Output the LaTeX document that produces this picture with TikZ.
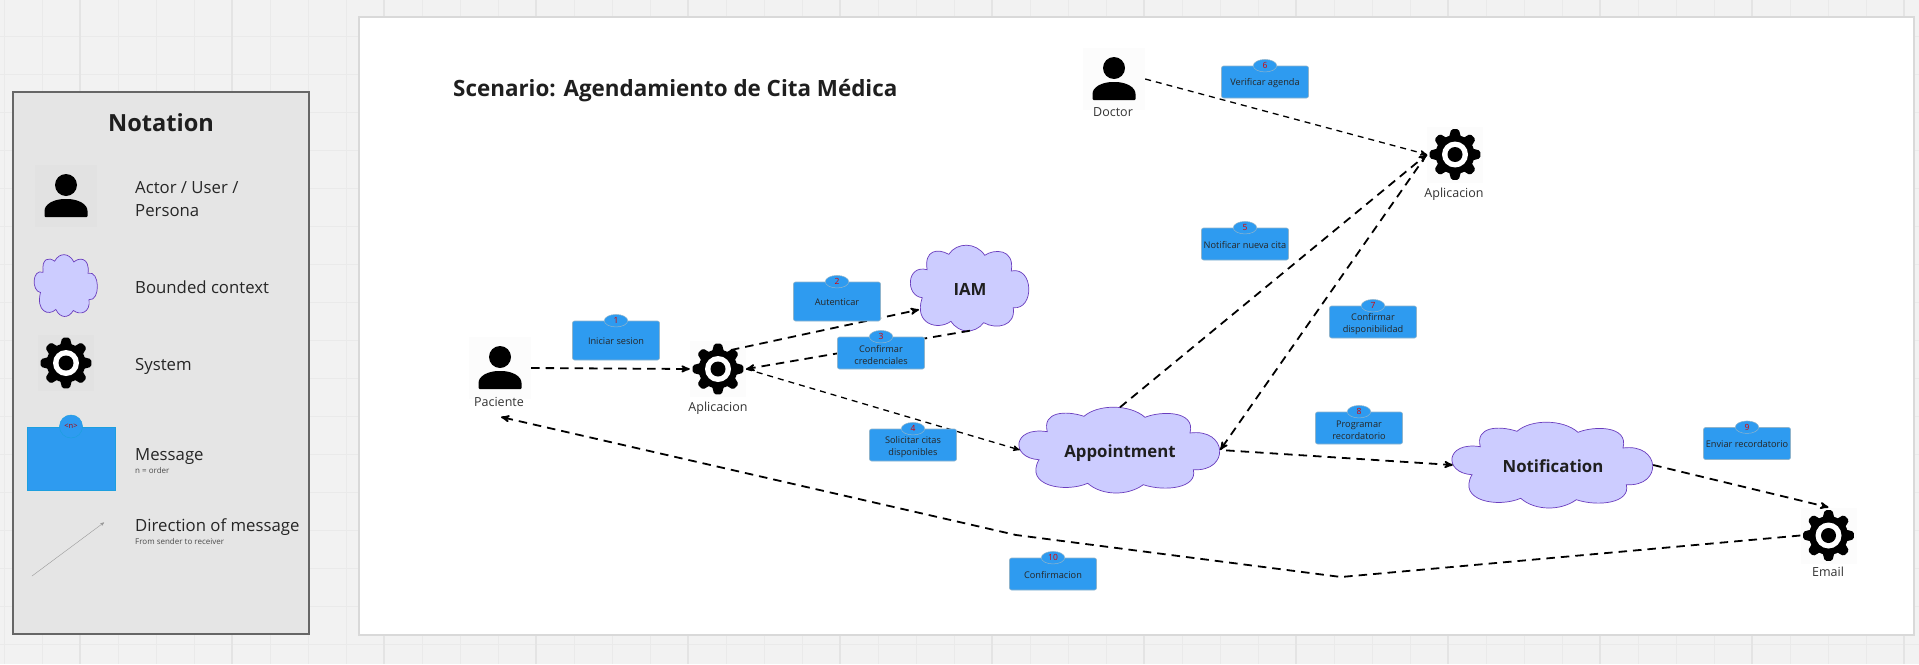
\documentclass[tikz,border=0pt]{standalone}
\usepackage{fontspec}
\setmainfont{Open Sans}
\usetikzlibrary{arrows,shapes.geometric}

\definecolor{gridline}{HTML}{EAEAEA}
\definecolor{gridmajor}{HTML}{E4E4E4}
\definecolor{cloudfill}{HTML}{CCCCFF}
\definecolor{cloudline}{HTML}{6A3DBE}
\definecolor{msgblue}{HTML}{2E9BF0}
\definecolor{msgedge}{HTML}{8FB4CC}
\definecolor{inktext}{HTML}{1F1F1F}

\newcommand{\geartooth}[1]{\fill[black, rounded corners=1.6pt] ({#1-22}:17) -- ({#1-8.5}:25.6) -- ({#1+8.5}:25.6) -- ({#1+22}:17) -- cycle;}
\newcommand{\cloudpath}[4]{\draw[draw=cloudline, line width=0.7pt, fill=cloudfill, shift={(#1,#2)}, xscale=#3, yscale=#4] (-36,-33.7) .. controls (-22,-46) and (10,-46) .. (25,-32.7) .. controls (40,-39) and (76,-40) .. (70,-17) .. controls (108,-22) and (110,22) .. (73.3,19.7) .. controls (78,38) and (45,42) .. (23.3,34.7) .. controls (8,46) and (-18,46) .. (-32.3,33.3) .. controls (-55,43) and (-96,36) .. (-81,9.7) .. controls (-110,8) and (-108,-24) .. (-72.7,-18.3) .. controls (-78,-38) and (-55,-40) .. (-36,-33.7) -- cycle;}

\tikzset{
	iconbox/.style = {rectangle, inner sep=0pt, fill=black, fill opacity=0.012},
	personicon/.style = {iconbox, minimum width=62pt, minimum height=62pt,
		path picture={\begin{scope}[shift={(path picture bounding box.center)}, fill opacity=1]
			\fill[black] (0,-11) circle (11);
			\fill[black, rounded corners=1pt] (-21.5,21) -- (-21.5,16) .. controls (-21.5,8) and (-12,3) .. (0,3) .. controls (12,3) and (21.5,8) .. (21.5,16) -- (21.5,21) -- cycle;
		\end{scope}}},
	gearicon/.style = {iconbox, minimum width=56pt, minimum height=56pt,
		path picture={\begin{scope}[shift={(path picture bounding box.center)}, fill opacity=1]
			\fill[black] (0,0) circle (19.5);
			\geartooth{0}\geartooth{45}\geartooth{90}\geartooth{135}
			\geartooth{180}\geartooth{225}\geartooth{270}\geartooth{315}
			\fill[white] (0,0) circle (13);
			\fill[black] (0,0) circle (7.5);
		\end{scope}}},
	bcloud/.style = {ellipse, inner sep=0pt, text=inktext, text height=15pt, text depth=0pt, font=\fontsize{16.8}{20}\selectfont\bfseries, minimum width=200pt, minimum height=85pt},
	msgbox/.style = {rectangle, rounded corners=2pt, draw=msgedge, line width=0.6pt, fill=msgblue, inner sep=0pt, align=center, text=black!85, text height=9pt, font=\fontsize{9.2}{12}\selectfont, minimum width=87pt, minimum height=32pt},
	msgtwo/.style = {msgbox, text height=23.5pt},
	msgbadge/.style = {ellipse, draw=msgedge, line width=0.5pt, fill=msgblue, inner sep=0pt, text=red!85!black, font=\fontsize{8.5}{10}\selectfont, minimum width=23.5pt, minimum height=12.5pt},
	actortxt/.style = {text=black!80, inner sep=0pt, font=\fontsize{12.5}{15}\selectfont},
	legendtxt/.style = {anchor=west, align=left, text=black!85, inner sep=0pt, font=\fontsize{16.75}{23.5}\selectfont},
	legendsmall/.style = {anchor=west, text=black!70, inner sep=0pt, font=\fontsize{8}{10}\selectfont},
	flowthin/.style = {-stealth', line width=1.3pt, dash pattern=on 6pt off 5pt},
	flowbig/.style = {-stealth', line width=1.8pt, dash pattern=on 8.5pt off 6pt}
}

\begin{document}
\begin{tikzpicture}[x=1pt, y=-1pt]
	\useasboundingbox (0,0) rectangle (1919,664);
	\fill[black!5] (0,0) rectangle (1919,664);
	\foreach \gx in {4,42,...,1919}
		\draw[gridline, line width=0.8pt] (\gx,0) -- (\gx,664);
	\foreach \gy in {36,74,...,664}
		\draw[gridline, line width=0.8pt] (0,\gy) -- (1919,\gy);
	\foreach \gx in {80,232,...,1919}
		\draw[gridmajor, line width=1.2pt] (\gx,0) -- (\gx,664);

	\draw[black!15, line width=1.5pt, fill=white] (359,17) rectangle (1914,635);
	\draw[black!60, line width=1.2pt, fill=black!10] (13,92) rectangle (309,634);

	\node[text=inktext, font=\fontsize{23.6}{28}\selectfont\bfseries] (notationTitle) at (161,122.5) {Notation};
	\node[personicon] (legActor) at (66,196) {};
	\node[legendtxt] (legActorTxt) at (135,199) {Actor / User /\\Persona};
	\cloudpath{66}{285.5}{0.315}{0.72}
	\node[bcloud, minimum width=63pt, minimum height=61pt] (legCloud) at (66,285.5) {};
	\node[legendtxt] (legCloudTxt) at (135,287) {Bounded context};
	\node[gearicon] (legGear) at (66,363) {};
	\node[legendtxt] (legGearTxt) at (135,366) {System};
	\node[rectangle, draw=cyan!60!msgblue, line width=0.6pt, fill=msgblue, minimum width=88pt, minimum height=63pt, inner sep=0pt] (legMsg) at (71,458.5) {};
	\node[circle, draw=cyan!60!msgblue, line width=0.5pt, fill=msgblue, inner sep=0pt, minimum size=23pt, text=red!70!black, font=\fontsize{7.5}{9}\selectfont] (legBadge) at (71,426.5) {<n>};
	\node[legendtxt] (legMsgTxt) at (135,457) {Message};
	\node[legendsmall] (legMsgSub) at (135,470) {n = order};
	\coordinate (dirFrom) at (32,576);
	\coordinate (dirTo) at (104,522.5);
	\draw[-stealth', black!40, line width=0.4pt] (dirFrom) -- (dirTo);
	\node[legendtxt] (legDirTxt) at (135,527) {Direction of message};
	\node[legendsmall] (legDirSub) at (135,541) {From sender to receiver};

	\node[text=inktext, anchor=west, inner sep=0pt, font=\fontsize{22.4}{26}\selectfont\bfseries] (scenarioTitle) at (453,91) {Scenario: Agendamiento de Cita Médica};

	\node[personicon] (paciente) at (500,368) {};
	\node[actortxt] (pacienteTxt) at (499,402) {Paciente};
	\node[gearicon] (appA) at (718,369) {};
	\node[actortxt] (appATxt) at (718,408) {Aplicacion};
	\node[personicon] (doctor) at (1114,79) {};
	\node[actortxt] (doctorTxt) at (1113,112) {Doctor};
	\node[gearicon] (appB) at (1455,154.5) {};
	\node[actortxt] (appBTxt) at (1454,194) {Aplicacion};
	\node[gearicon] (email) at (1828.5,535.5) {};
	\node[actortxt] (emailTxt) at (1828,572) {Email};

	\cloudpath{970}{288}{0.59}{1}
	\node[bcloud, minimum width=118pt, minimum height=85pt] (iam) at (970,288) {IAM};
	\cloudpath{1120}{450}{1}{1}
	\node[bcloud] (appointment) at (1120,450) {Appointment};
	\cloudpath{1553}{465}{1}{1}
	\node[bcloud] (notification) at (1553,465) {Notification};

	\coordinate (retKinkA) at (1341,577);
	\coordinate (retKinkB) at (1016,535);
	\coordinate (retEnd) at (501,417);

	\draw[flowbig] (paciente.east) -- (appA.west);
	\draw[flowbig] ([shift={(13,-19)}]appA.center) -- (iam.203);
	\draw[flowbig] (iam.south) -- (appA.east);
	\draw[flowthin] (appA.east) -- (appointment.west);
	\draw[flowbig] (appointment.north) -- (appB.west);
	\draw[flowthin] (doctor.east) -- (appB.west);
	\draw[flowbig] (appB.west) -- (appointment.east);
	\draw[flowbig, shorten <=6pt] (appointment.east) -- (notification.west);
	\draw[flowbig] (notification.east) -- (email.north);
	\draw[flowbig] (email.west) -- (retKinkA) -- (retKinkB) -- (retEnd);

	\node[msgbox, minimum height=39pt] (msgOne) at (616,340.5) {Iniciar sesion};
	\node[msgbadge] (badgeOne) at (msgOne.north) {1};
	\node[msgbox, minimum height=39pt] (msgTwo) at (837,301.5) {Autenticar};
	\node[msgbadge] (badgeTwo) at (msgTwo.north) {2};
	\node[msgtwo] (msgThree) at (881,353) {Confirmar\\credenciales};
	\node[msgbadge] (badgeThree) at (msgThree.north) {3};
	\node[msgtwo] (msgFour) at (913,445) {Solicitar citas\\disponibles};
	\node[msgbadge] (badgeFour) at (msgFour.north) {4};
	\node[msgbox] (msgFive) at (1245,244) {Notificar nueva cita};
	\node[msgbadge] (badgeFive) at (msgFive.north) {5};
	\node[msgbox] (msgSix) at (1265,82) {Verificar agenda};
	\node[msgbadge] (badgeSix) at (msgSix.north) {6};
	\node[msgtwo] (msgSeven) at (1373,322) {Confirmar\\disponibilidad};
	\node[msgbadge] (badgeSeven) at (msgSeven.north) {7};
	\node[msgtwo] (msgEight) at (1359,428) {Programar\\recordatorio};
	\node[msgbadge] (badgeEight) at (msgEight.north) {8};
	\node[msgbox] (msgNine) at (1747,443.5) {Enviar recordatorio};
	\node[msgbadge] (badgeNine) at (msgNine.north) {9};
	\node[msgbox] (msgTen) at (1053,574) {Confirmacion};
	\node[msgbadge] (badgeTen) at (msgTen.north) {10};
\end{tikzpicture}
\end{document}
